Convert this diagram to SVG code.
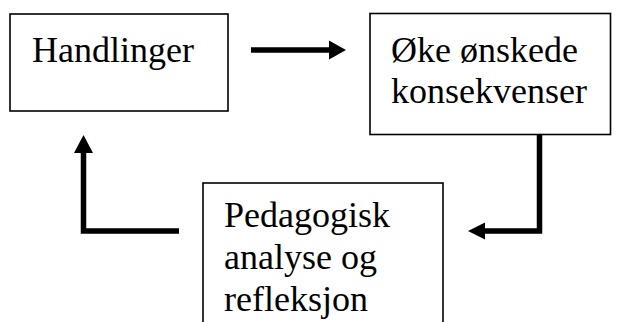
<svg xmlns="http://www.w3.org/2000/svg" width="617" height="322" viewBox="0 0 617 322">
<style>
.box{fill:#fff;stroke:#000;stroke-width:1.6}
.lbl{font-family:"Liberation Serif","Times New Roman",serif;font-size:36px;fill:#000}
.conn{fill:none;stroke:#000;stroke-width:5.5;stroke-linejoin:miter}
.head{fill:#000;stroke:none}
</style>
<rect width="617" height="322" fill="#fff"/>
<g id="node-handlinger">
<rect class="box" x="10" y="14" width="218" height="97"/>
<text class="lbl" x="32" y="61.5">Handlinger</text>
</g>
<g id="node-oke">
<rect class="box" x="370" y="13.5" width="240.5" height="121"/>
<text class="lbl" x="391" y="61.5">Øke ønskede</text>
<text class="lbl" x="391" y="102.5">konsekvenser</text>
</g>
<g id="node-pedagogisk">
<rect class="box" x="203" y="183" width="240" height="150"/>
<text class="lbl" x="224" y="227">Pedagogisk</text>
<text class="lbl" x="224" y="269">analyse og</text>
<text class="lbl" x="224" y="311">refleksjon</text>
</g>
<g id="connectors">
<path class="conn" d="M251 50 H331"/>
<polygon class="head" points="346,50 329,40.5 329,59.5"/>
<path class="conn" d="M539.5 135 V231 H483"/>
<polygon class="head" points="468,231 485,222.5 485,239.5"/>
<path class="conn" d="M179 231 H83.5 V150"/>
<polygon class="head" points="83.5,135 74,153 93,153"/>
</g>
</svg>
